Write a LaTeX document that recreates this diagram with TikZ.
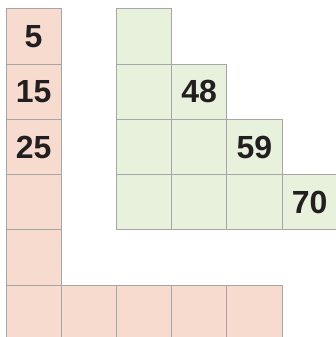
\documentclass[tikz,border=0pt]{standalone}
\usepackage{fontspec}
\setmainfont{Liberation Sans}
\definecolor{pinkfill}{HTML}{F7DBCF}
\definecolor{greenfill}{HTML}{E8F1DB}
\definecolor{gridgray}{HTML}{A6A6A6}
\definecolor{numcol}{HTML}{231F20}
\begin{document}
\begin{tikzpicture}[x=1pt,y=-1pt,
  cell/.style={draw=gridgray,line width=1pt,minimum size=55.2pt,inner sep=0pt,outer sep=0pt,
    font=\fontsize{32}{32}\selectfont\bfseries,text=numcol},
  pinkcell/.style={cell,fill=pinkfill},
  greencell/.style={cell,fill=greenfill}]
\useasboundingbox (0,0) rectangle (336,337);
\clip (0,0) rectangle (336,337);
\def\cx#1{33.6+55.2*#1}
% pink left column
\node[pinkcell] (p00) at ({\cx{0}},{36.6+55.2*0}) {5};
\node[pinkcell] (p01) at ({\cx{0}},{36.6+55.2*1}) {15};
\node[pinkcell] (p02) at ({\cx{0}},{36.6+55.2*2}) {25};
\node[pinkcell] (p03) at ({\cx{0}},{36.6+55.2*3}) {};
\node[pinkcell] (p04) at ({\cx{0}},{36.6+55.2*4}) {};
\node[pinkcell] (p05) at ({\cx{0}},{36.6+55.2*5}) {};
% pink bottom row
\node[pinkcell] (p15) at ({\cx{1}},{36.6+55.2*5}) {};
\node[pinkcell] (p25) at ({\cx{2}},{36.6+55.2*5}) {};
\node[pinkcell] (p35) at ({\cx{3}},{36.6+55.2*5}) {};
\node[pinkcell] (p45) at ({\cx{4}},{36.6+55.2*5}) {};
% green staircase
\node[greencell] (g20) at ({\cx{2}},{36.6+55.2*0}) {};
\node[greencell] (g21) at ({\cx{2}},{36.6+55.2*1}) {};
\node[greencell] (g22) at ({\cx{2}},{36.6+55.2*2}) {};
\node[greencell] (g23) at ({\cx{2}},{36.6+55.2*3}) {};
\node[greencell] (g31) at ({\cx{3}},{36.6+55.2*1}) {48};
\node[greencell] (g32) at ({\cx{3}},{36.6+55.2*2}) {};
\node[greencell] (g33) at ({\cx{3}},{36.6+55.2*3}) {};
\node[greencell] (g42) at ({\cx{4}},{36.6+55.2*2}) {59};
\node[greencell] (g43) at ({\cx{4}},{36.6+55.2*3}) {};
\node[greencell] (g53) at ({\cx{5}},{36.6+55.2*3}) {70};
\end{tikzpicture}
\end{document}
